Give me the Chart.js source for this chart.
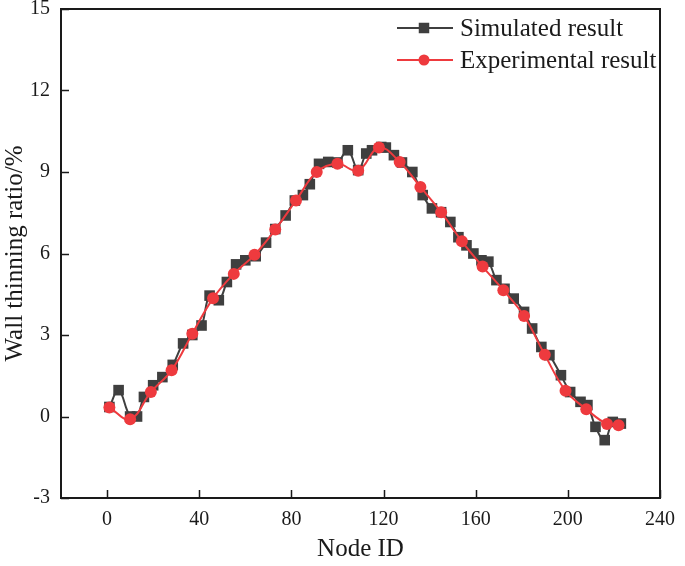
<!DOCTYPE html>
<html>
<head>
  <title>Wall thinning ratio</title>
  <script src="https://cdn.jsdelivr.net/npm/chart.js"></script>
  <style>
    body { margin: 0; background: #fff; }
    #wrap { width: 685px; height: 566px; }
  </style>
</head>
<body>
  <div id="wrap"><canvas id="chart" width="685" height="566"></canvas></div>

  <script>
    // simulated result (node id, wall thinning %)
    const simX = [1, 5, 10, 13, 16, 20, 24, 28.5, 33, 37, 41, 44.5, 48.5, 52, 56, 60, 64.5, 69, 73, 77.5,
      81.5, 85, 88, 92, 96, 100, 104.5, 109, 112.5, 115, 119, 121, 124.5, 128, 132.5, 137, 141, 145, 149, 152.5,
      156, 159, 162.5, 165.5, 169, 172.5, 176.5, 181, 184.5, 188.5, 192, 197, 201, 205.5, 208.5, 212, 216, 219.5, 223];
    const simY = [0.35, 0.97, 0.0, 0.0, 0.72, 1.15, 1.45, 1.9, 2.69, 3.0, 3.35, 4.45, 4.28, 4.95, 5.6, 5.75, 5.9, 6.4, 6.9, 7.4,
      7.95, 8.15, 8.55, 9.3, 9.37, 9.35, 9.8, 9.07, 9.68, 9.8, 9.92, 9.9, 9.62, 9.35, 9.0, 8.15, 7.66, 7.52, 7.16, 6.6,
      6.3, 6.0, 5.75, 5.7, 5.02, 4.7, 4.34, 3.85, 3.24, 2.56, 2.26, 1.52, 0.9, 0.54, 0.42, -0.38, -0.87, -0.2, -0.26];

    // experimental result
    const expX = [1, 10, 19, 28, 37, 46, 55, 64, 73, 82, 91, 100, 109, 118, 127, 136, 145, 154, 163, 172, 181, 190, 199, 208, 217, 222];
    const expY = [0.33, -0.1, 0.9, 1.7, 3.05, 4.35, 5.25, 5.95, 6.88, 7.95, 9.0, 9.3, 9.05, 9.9, 9.37, 8.45, 7.52, 6.45, 5.52, 4.65,
      3.7, 2.27, 0.95, 0.27, -0.28, -0.32];

    const xTicks = [0, 40, 80, 120, 160, 200, 240];
    const yTicks = [-3, 0, 3, 6, 9, 12, 15];

    const serif = "'Liberation Serif', 'Times New Roman', serif";
    const ink = '#1a1a1a';

    const toPts = (xs, ys) => xs.map((x, i) => ({ x: x, y: ys[i] }));

    // frame, inward ticks and the legend box drawn by hand
    const decor = {
      id: 'decor',
      afterDatasetsDraw(chart) {
        const { ctx, chartArea: a, scales } = chart;
        ctx.save();
        ctx.strokeStyle = ink;
        ctx.lineWidth = 2;
        ctx.strokeRect(a.left, a.top, a.right - a.left, a.bottom - a.top);
        ctx.lineWidth = 1.5;
        ctx.beginPath();
        xTicks.forEach(v => {
          const px = Math.round(scales.x.getPixelForValue(v)) + 0.5;
          ctx.moveTo(px, a.bottom);
          ctx.lineTo(px, a.bottom - 8);
        });
        yTicks.forEach(v => {
          const py = Math.round(scales.y.getPixelForValue(v)) + 0.5;
          ctx.moveTo(a.left, py);
          ctx.lineTo(a.left + 8, py);
        });
        ctx.stroke();

        // legend
        chart.data.datasets.forEach((ds, i) => {
          const y = 28 + i * 32;
          ctx.strokeStyle = ds.borderColor;
          ctx.lineWidth = 2;
          ctx.beginPath();
          ctx.moveTo(397, y);
          ctx.lineTo(453, y);
          ctx.stroke();
          Chart.helpers.drawPoint(ctx, {
            pointStyle: ds.pointStyle,
            radius: ds.pointRadius - 1.5,
            borderWidth: 1
          }, 424, y);
          ctx.fillStyle = ds.pointBackgroundColor;
          ctx.fill();
          ctx.fillStyle = ink;
          ctx.font = '25px ' + serif;
          ctx.textBaseline = 'middle';
          ctx.textAlign = 'left';
          ctx.fillText(ds.label, 460, y + 1);
        });
        ctx.restore();
      }
    };

    new Chart(document.getElementById('chart'), {
      type: 'line',
      data: {
        datasets: [
          {
            label: 'Simulated result',
            data: toPts(simX, simY),
            borderColor: '#3f3f3f',
            backgroundColor: '#3f3f3f',
            pointBackgroundColor: '#3f3f3f',
            pointBorderColor: '#3f3f3f',
            pointStyle: 'rect',
            pointRadius: 7.5,
            pointBorderWidth: 0,
            borderWidth: 2,
            tension: 0.4,
            order: 2
          },
          {
            label: 'Experimental result',
            data: toPts(expX, expY),
            borderColor: '#ee3a3e',
            backgroundColor: '#ee3a3e',
            pointBackgroundColor: '#ee3a3e',
            pointBorderColor: '#ee3a3e',
            pointStyle: 'circle',
            pointRadius: 6,
            pointBorderWidth: 0,
            borderWidth: 2,
            tension: 0.4,
            order: 1
          }
        ]
      },
      options: {
        responsive: false,
        animation: false,
        layout: { padding: { left: 0, right: 15, top: 9, bottom: 0 } },
        plugins: {
          legend: { display: false },
          tooltip: { enabled: false }
        },
        scales: {
          x: {
            type: 'linear',
            min: -20,
            max: 240,
            afterBuildTicks: s => { s.ticks = xTicks.map(v => ({ value: v })); },
            afterFit: s => { s.height = 68; },
            grid: { display: false, drawTicks: false },
            border: { display: false },
            ticks: { color: ink, font: { family: serif, size: 20 }, padding: 10, maxRotation: 0 },
            title: { display: true, text: 'Node ID', color: ink, font: { family: serif, size: 25 }, padding: { top: 0, bottom: 2 } }
          },
          y: {
            min: -3,
            max: 15,
            afterBuildTicks: s => { s.ticks = yTicks.map(v => ({ value: v })); },
            afterFit: s => { s.width = 61; s.paddingTop = 0; s.paddingBottom = 0; },
            grid: { display: false, drawTicks: false },
            border: { display: false },
            ticks: { color: ink, font: { family: serif, size: 20 }, padding: 11 },
            title: { display: true, text: 'Wall thinning ratio/%', color: ink, font: { family: serif, size: 25 }, padding: { top: 0, bottom: 0 } }
          }
        }
      },
      plugins: [decor]
    });
  </script>
</body>
</html>
